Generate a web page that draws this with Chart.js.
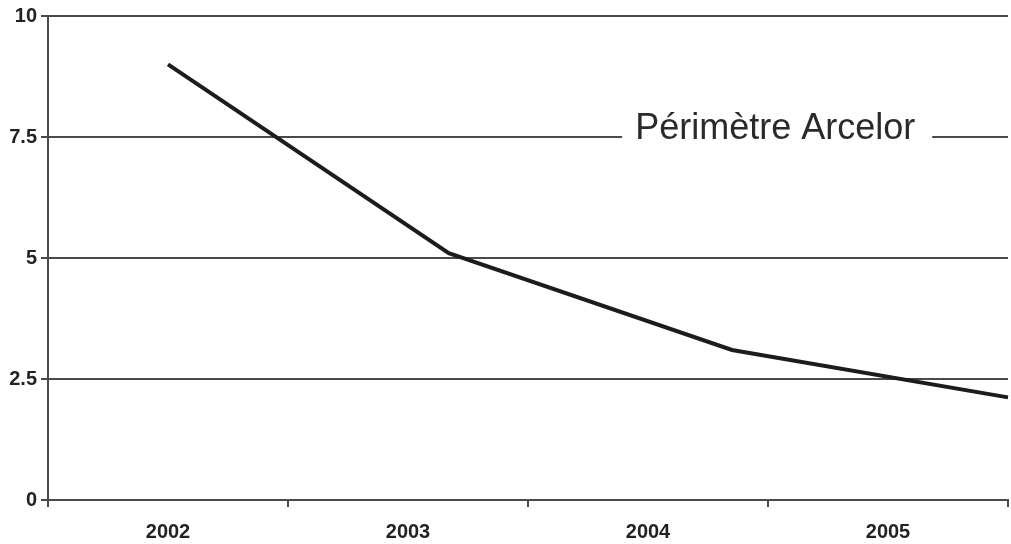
<!DOCTYPE html>
<html>
<head>
<meta charset="utf-8">
<script src="https://cdn.jsdelivr.net/npm/chart.js@4"></script>
<style>
  html, body { margin: 0; padding: 0; background: #fff; }
  #wrap { width: 1011px; height: 544px; }
</style>
</head>
<body>
<div id="wrap"><canvas id="grafica"></canvas></div>
<script>
// datos
const annees = ["2002", "2003", "2004", "2005"];
// position le long de l'axe (0 = 2002 ... 3 = 2005) et valeur
const positions = [0, 1.17, 2.35, 3.5];
const valeurs = [9.0, 5.1, 3.1, 2.12];
const yTicks = [0, 2.5, 5, 7.5, 10];
const etiquette = "Périmètre Arcelor";

const couleurGrille = "#4a4a4a";

// texte sur la ligne 7.5 avec un fond blanc
const etiquettePlugin = {
  id: "etiquette",
  afterDatasetsDraw(chart) {
    const ctx = chart.ctx;
    const xs = chart.scales.xv;
    const ys = chart.scales.y;
    const cx = xs.getPixelForValue(2.53);
    const cy = ys.getPixelForValue(7.5);
    ctx.save();
    ctx.font = "36px 'Liberation Sans', Arial, sans-serif";
    const w = ctx.measureText(etiquette).width;
    ctx.fillStyle = "#fff";
    ctx.fillRect(cx - w / 2 - 13, cy - 32, w + 30, 38);
    ctx.fillStyle = "#2a2a2a";
    ctx.textAlign = "center";
    ctx.textBaseline = "alphabetic";
    ctx.fillText(etiquette, cx, cy + 2);
    ctx.restore();
  },
};

const points = positions.map((p, i) => ({ x: p, y: valeurs[i] }));

new Chart(document.getElementById("grafica"), {
  type: "line",
  data: {
    labels: annees,
    datasets: [
      {
        data: points,
        xAxisID: "xv",
        borderColor: "#1c1c1c",
        borderWidth: 4,
        pointRadius: 0,
        tension: 0,
        clip: false,
      },
    ],
  },
  options: {
    responsive: true,
    maintainAspectRatio: false,
    animation: false,
    layout: { padding: { top: 13, right: 3, left: 0, bottom: 0 } },
    plugins: { legend: { display: false }, tooltip: { enabled: false } },
    scales: {
      x: {
        type: "category",
        offset: true,
        grid: {
          offset: true,
          drawOnChartArea: false,
          drawTicks: true,
          tickLength: 7,
          color: couleurGrille,
          lineWidth: 2,
        },
        border: { display: true, color: couleurGrille, width: 2 },
        ticks: {
          color: "#222",
          padding: 13,
          font: { family: "'Liberation Sans', Arial", size: 20, weight: "bold" },
        },
        afterFit: (s) => { s.height = 44; },
      },
      xv: {
        type: "linear",
        display: false,
        min: -0.5,
        max: 3.5,
      },
      y: {
        min: 0,
        max: 10,
        afterBuildTicks: (s) => { s.ticks = yTicks.map((v) => ({ value: v })); },
        grid: {
          color: couleurGrille,
          lineWidth: 2,
          tickLength: 7,
        },
        border: { display: true, color: couleurGrille, width: 2 },
        ticks: {
          color: "#222",
          padding: 4,
          font: { family: "'Liberation Sans', Arial", size: 20, weight: "bold" },
        },
        afterFit: (s) => { s.width = 48; },
      },
    },
  },
  plugins: [etiquettePlugin],
});
</script>
</body>
</html>
